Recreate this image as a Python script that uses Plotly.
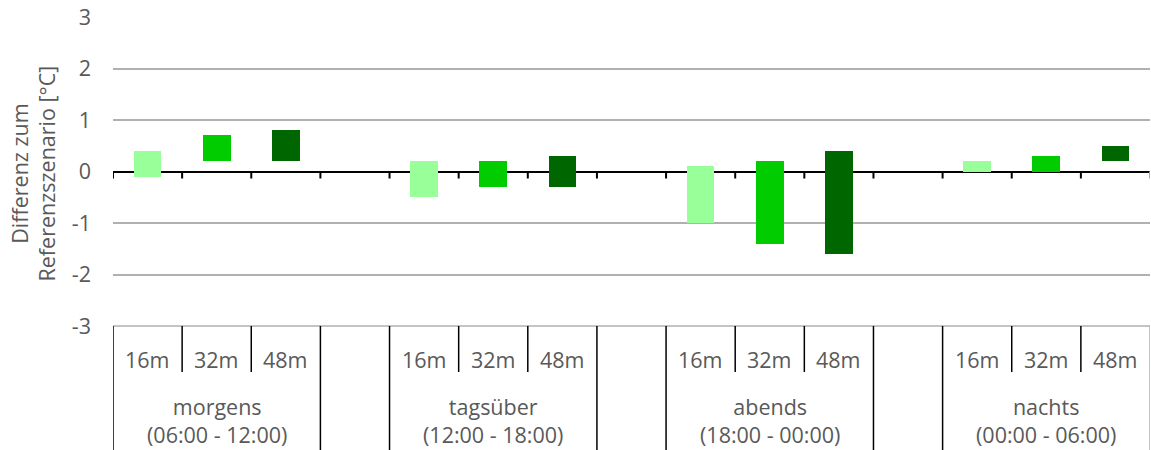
import plotly.graph_objects as go

# Time-of-day groups and building heights
periods = ["morgens", "tagsüber", "abends", "nachts"]
period_ranges = ["(06:00 - 12:00)", "(12:00 - 18:00)", "(18:00 - 00:00)", "(00:00 - 06:00)"]
heights = ["16m", "32m", "48m"]

# Range of the temperature difference (min / max) per period, °C
low_16m = [-0.1, -0.5, -1.0, 0.0]
high_16m = [0.4, 0.2, 0.1, 0.2]
low_32m = [0.2, -0.3, -1.4, 0.0]
high_32m = [0.7, 0.2, 0.2, 0.3]
low_48m = [0.2, -0.3, -1.6, 0.2]
high_48m = [0.8, 0.3, 0.4, 0.5]

y_ticks = [-3, -2, -1, 0, 1, 2, 3]
y_tick_labels = ["-3", "-2", "-1", "0", "1", "2", "3"]

colors = ["#99ff99", "#00cc00", "#006600"]
text_color = "#595959"
font_family = "Open Sans"
font_size = 21.5

series = [(low_16m, high_16m), (low_32m, high_32m), (low_48m, high_48m)]
slots_per_group = len(heights) + 1          # one empty slot between groups
n_slots = len(periods) * slots_per_group - 1

fig = go.Figure()
for h, (lo, hi) in enumerate(series):
    xs = [g * slots_per_group + h for g in range(len(periods))]
    fig.add_trace(go.Bar(
        x=xs,
        y=[b - a for a, b in zip(lo, hi)],
        base=lo,
        width=0.4,
        marker=dict(color=colors[h], line=dict(width=0)),
        name=heights[h],
        showlegend=False,
    ))

shapes = []
annotations = []
table_bottom = -124 / 309
inner_bottom = -46 / 309

# Tick marks hanging from the zero line at every slot boundary
for k in range(n_slots + 1):
    xb = k - 0.5
    shapes.append(dict(
        type="line", xref="x", yref="y", ysizemode="pixel", yanchor=0,
        x0=xb, x1=xb, y0=0, y1=-7,
        line=dict(color="#a6a6a6" if k == n_slots else "#000000", width=2),
    ))

# Category table below the plot
shapes.append(dict(type="line", xref="paper", yref="paper", x0=0, x1=1, y0=0, y1=0,
                   line=dict(color="#b0b0b0", width=1.5)))
for k in range(n_slots + 1):
    xb = k - 0.5
    pos = k % slots_per_group
    if k == n_slots:
        col, y1 = "#b0b0b0", table_bottom
    elif pos == 0 or pos == slots_per_group - 1:
        col, y1 = "#000000", table_bottom
    else:
        col, y1 = "#000000", inner_bottom
    shapes.append(dict(type="line", xref="x", yref="paper", x0=xb, x1=xb, y0=0, y1=y1,
                       line=dict(color=col, width=1.5)))

for g in range(len(periods)):
    for h, name in enumerate(heights):
        annotations.append(dict(
            x=g * slots_per_group + h, y=-33 / 309, xref="x", yref="paper",
            text=name, showarrow=False, xanchor="center", yanchor="middle",
            font=dict(family=font_family, size=font_size, color=text_color),
        ))
    annotations.append(dict(
        x=g * slots_per_group + 1, y=-94 / 309, xref="x", yref="paper",
        text=periods[g] + "<br>" + period_ranges[g], showarrow=False,
        xanchor="center", yanchor="middle", align="center",
        font=dict(family=font_family, size=font_size, color=text_color),
    ))

# Y-axis title
annotations.append(dict(
    x=0, y=0.5, xref="paper", yref="paper", xshift=-80, yshift=-2,
    text="Differenz zum<br>Referenzszenario [°C]", textangle=-90,
    showarrow=False, xanchor="center", yanchor="middle", align="center",
    font=dict(family=font_family, size=font_size, color=text_color),
))

fig.update_layout(
    width=1151, height=450,
    margin=dict(l=113, r=1, t=17, b=124),
    paper_bgcolor="white", plot_bgcolor="white",
    bargap=0,
    shapes=shapes,
    annotations=annotations,
    font=dict(family=font_family, size=font_size, color=text_color),
    xaxis=dict(range=[-0.5, n_slots - 0.5], showticklabels=False, showgrid=False,
               zeroline=False, showline=False, ticks=""),
    yaxis=dict(range=[-3, 3], tickvals=y_ticks, ticktext=y_tick_labels,
               showgrid=True, gridcolor="#b0b0b0",
               gridwidth=1.5, zeroline=True, zerolinecolor="#000000", zerolinewidth=2,
               showline=False, ticks="", ticklabelstandoff=21,
               tickfont=dict(family=font_family, size=font_size, color=text_color)),
)

fig.write_html("out.html")
